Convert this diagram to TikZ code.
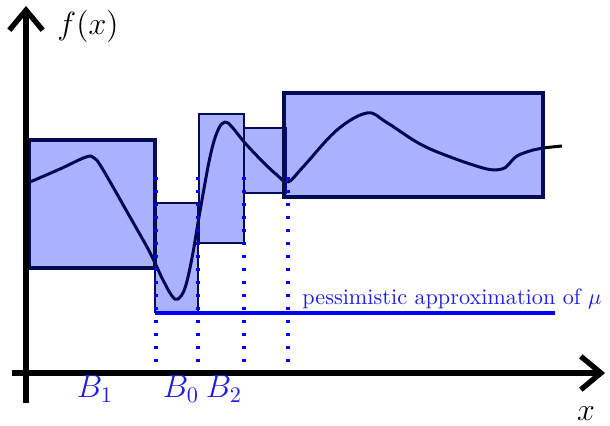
\documentclass[tikz,border=0pt]{standalone}
\usetikzlibrary{arrows.meta}
\definecolor{navy}{RGB}{5,12,85}
\definecolor{boxblue}{RGB}{0,20,255}
\definecolor{lblue}{RGB}{30,30,235}
\begin{document}
\begin{tikzpicture}[x=0.45pt,y=-0.45pt,
  axis/.style={line width=2.4pt,-{Straight Barb[length=9pt,width=15pt]}},
  curve/.style={line width=1.35pt,black,line join=round},
  thickbox/.style={draw=navy,line width=1.6pt,fill=boxblue,fill opacity=0.33},
  thinbox/.style={draw=navy,line width=0.8pt,fill=boxblue,fill opacity=0.33},
  dots/.style={draw=blue,line width=1.4pt,dash pattern=on 1.3pt off 4.55pt},
  lbl/.style={text=lblue,font=\Large,inner sep=0pt},
  axlbl/.style={font=\Large,inner sep=0pt}]
\useasboundingbox (0,0) rectangle (610,426);
% function curve
\draw[curve] plot[smooth,tension=0.6] coordinates {
 (30,182) (60,169) (86,157) (94,158) (102,168) (130,217) (147,247) (155,263)
 (163,280) (172,296) (178,299) (185,288) (192,258) (199,217) (210,157) (218,130)
 (225,122) (232,127) (245,143) (263,162) (277,175) (288,182) (303,167)
 (337,130) (367,113) (386,122) (420,144) (453,158) (487,169)
 (502,169) (508,165) (517,156) (533,150) (543,148) (562,146)};
% boxes
\coordinate (b1a) at (29,140); \coordinate (b1b) at (155,268);
\coordinate (b0a) at (155,203); \coordinate (b0b) at (198,312);
\coordinate (b2a) at (199,114); \coordinate (b2b) at (244,243);
\coordinate (b3a) at (244,128); \coordinate (b3b) at (286,193);
\coordinate (b4a) at (284,93);  \coordinate (b4b) at (543,197);
\draw[thinbox] (b0a) rectangle (b0b);
\draw[thinbox] (b2a) rectangle (b2b);
\draw[thinbox] (b3a) rectangle (b3b);
\draw[thickbox] (b1a) rectangle (b1b);
\draw[thickbox] (b4a) rectangle (b4b);
% dotted lines
\coordinate (d1t) at (156,177); \coordinate (d1b) at (156,378);
\coordinate (d2t) at (198,177); \coordinate (d2b) at (198,378);
\coordinate (d3t) at (244,177); \coordinate (d3b) at (244,378);
\coordinate (d4t) at (288,177); \coordinate (d4b) at (288,378);
\draw[dots] (d1t) -- (d1b);
\draw[dots] (d2t) -- (d2b);
\draw[dots] (d3t) -- (d3b);
\draw[dots] (d4t) -- (d4b);
% pessimistic line
\coordinate (pl) at (155,313); \coordinate (pr) at (555,313);
\draw[blue,line width=1.7pt] (pl) -- (pr);
\node[text=lblue,anchor=base west,inner sep=0pt] (pess) at (302,304) {pessimistic approximation of $\mu$};
% axes
\coordinate (yb) at (26,403); \coordinate (yt) at (26,6);
\coordinate (xl) at (12,373); \coordinate (xr) at (605,373);
\draw[axis] (yb) -- (yt);
\draw[axis] (xl) -- (xr);
\node[axlbl] (fx) at (88,27) {$f(x)$};
\node[axlbl] (xlab) at (586,414) {$x$};
\node[lbl] (B1) at (95,389) {$B_1$};
\node[lbl] (B0) at (181,389) {$B_0$};
\node[lbl] (B2) at (224,389) {$B_2$};
\end{tikzpicture}
\end{document}
